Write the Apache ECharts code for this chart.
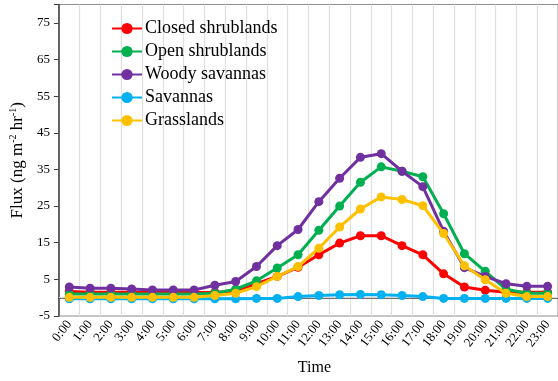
<!DOCTYPE html>
<html><head><meta charset="utf-8">
<script src="https://cdn.jsdelivr.net/npm/echarts@6/dist/echarts.min.js"></script>
<style>html,body{margin:0;padding:0;background:#fff}#c{width:558px;height:381px}</style>
</head><body><div id="c"></div>
<script>
const hours = ['0:00','1:00','2:00','3:00','4:00','5:00','6:00','7:00','8:00','9:00','10:00','11:00','12:00','13:00','14:00','15:00','16:00','17:00','18:00','19:00','20:00','21:00','22:00','23:00'];
const closedShrublands = [1.7,1.5,1.5,1.5,1.4,1.4,1.4,1.5,1.7,3.8,5.8,8.3,11.7,14.9,16.9,16.9,14.2,11.7,6.5,2.9,2.0,1.5,1.5,1.5];
const openShrublands = [1.0,1.0,1.0,1.0,1.0,1.0,1.0,1.2,2.3,4.6,8.1,11.7,18.4,25.0,31.5,35.7,34.5,33.0,22.9,12.0,7.2,2.3,1.2,1.2];
const woodySavannas = [2.9,2.6,2.6,2.4,2.1,2.1,2.1,3.4,4.4,8.5,14.2,18.6,26.2,32.6,38.3,39.3,34.5,30.3,18.1,8.2,5.8,3.8,3.1,3.1];
const savannas = [-0.3,-0.3,-0.3,-0.3,-0.3,-0.3,-0.3,-0.3,-0.3,-0.2,-0.2,0.3,0.6,0.8,0.9,0.8,0.6,0.3,-0.2,-0.2,-0.2,-0.2,-0.2,-0.2];
const grasslands = [0.1,0.1,0.1,0.1,0.1,0.1,0.1,0.6,1.2,3.0,5.8,8.5,13.5,19.3,24.2,27.5,26.8,25.1,17.5,8.7,4.9,1.2,0.3,0.3];
const seriesNames = ['Closed shrublands','Open shrublands','Woody savannas','Savannas','Grasslands'];
const seriesColors = ['#FF0000','#00B050','#7030A0','#00B0F0','#FFC000'];
const seriesData = [closedShrublands, openShrublands, woodySavannas, savannas, grasslands];

const font = 'Liberation Serif, Times New Roman, serif';
const chart = echarts.init(document.getElementById('c'));
const series = seriesNames.map((n,i)=>({
  name:n, type:'line', data:seriesData[i], symbol:'circle', symbolSize:9,
  itemStyle:{color:seriesColors[i]}, lineStyle:{width:3,color:seriesColors[i]},
  emphasis:{disabled:true}, z:2+i
}));
series[0].markLine = {silent:true, symbol:'none', label:{show:false},
  lineStyle:{color:'#d9d9d9',width:1,type:'solid'}, data:[{yAxis:0}], z:1};
chart.setOption({
  animation:false,
  textStyle:{fontFamily:font},
  grid:{left:58,right:-2,top:4.5,bottom:65,show:true,borderColor:'#8c8c8c',borderWidth:1},
  legend:{orient:'vertical',left:106,top:14.5,itemWidth:30,itemHeight:14,itemGap:5,
    textStyle:{fontFamily:font,fontSize:18,color:'#000',padding:[0,0,0,-2]}},
  xAxis:{type:'category',data:hours,boundaryGap:true,
    name:'Time',nameLocation:'middle',nameGap:44,
    nameTextStyle:{fontFamily:font,fontSize:16,color:'#000',padding:[0,0,0,12]},
    axisLine:{lineStyle:{color:'#404040',width:1.5}},
    axisTick:{show:false},
    axisLabel:{rotate:52,fontSize:13,color:'#000',margin:6,interval:0,fontFamily:font},
    splitLine:{show:true,interval:0,lineStyle:{color:'#e0e0e0',width:1.2}}},
  yAxis:{type:'value',min:-5,max:80,interval:10,
    name:'{a|Flux (ng m}{s|-2}{a| hr}{s|-1}{a|)}',nameLocation:'middle',nameGap:31,
    nameTextStyle:{fontFamily:font,fontSize:17,color:'#000',
      rich:{a:{fontFamily:font,fontSize:17,color:'#000',lineHeight:18,verticalAlign:'bottom'},
            s:{fontFamily:font,fontSize:10,color:'#000',lineHeight:18,verticalAlign:'top'}}},
    axisLine:{show:true,lineStyle:{color:'#404040',width:1.5}},
    axisTick:{show:true,length:5,lineStyle:{color:'#404040'}},
    axisLabel:{fontSize:13,color:'#000',margin:9,fontFamily:font,
      formatter:v=>v===80?'':String(v)},
    splitLine:{show:false}},
  series:series
});
</script></body></html>
